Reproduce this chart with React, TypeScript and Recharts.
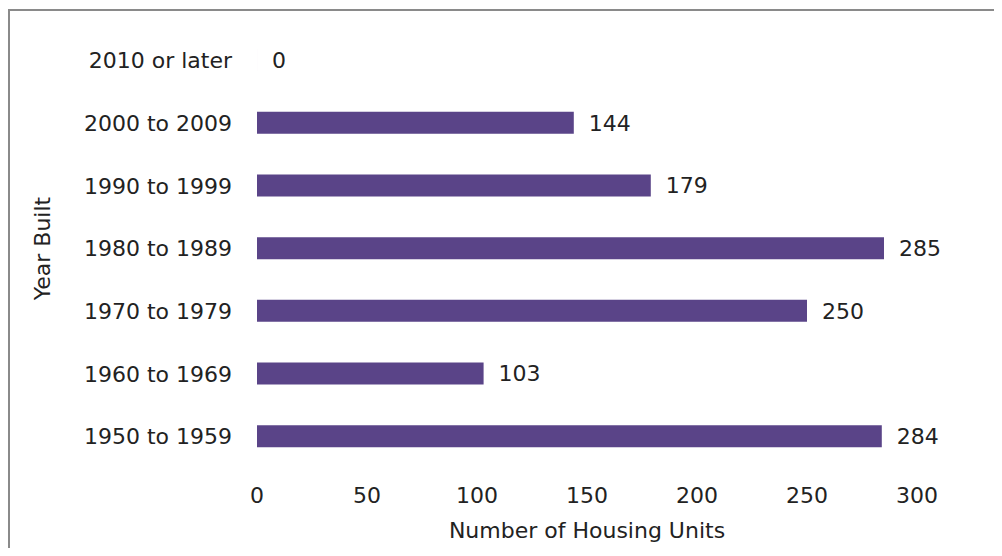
import { BarChart, Bar, XAxis, YAxis, LabelList } from "recharts";

const periods = [
  "2010 or later",
  "2000 to 2009",
  "1990 to 1999",
  "1980 to 1989",
  "1970 to 1979",
  "1960 to 1969",
  "1950 to 1959",
];
const units = [0, 144, 179, 285, 250, 103, 284];
const xTicks = [0, 50, 100, 150, 200, 250, 300];

const data = periods.map((p, i) => ({ period: p, units: units[i] }));

const FONT = "'DejaVu Sans', sans-serif";
const INK = "#222";
const txt = { fontSize: 22, fill: INK, fontFamily: FONT };

export default function App() {
  return (
    <div
      style={{
        position: "relative",
        width: 1002,
        height: 556,
        margin: -8,
        background: "#fff",
        overflow: "hidden",
        fontFamily: FONT,
      }}
    >
      {/* frame of the scanned figure */}
      <div
        style={{
          position: "absolute",
          left: 8,
          top: 9,
          width: 1010,
          height: 560,
          borderLeft: "2px solid #8a8a8a",
          borderTop: "2px solid #8a8a8a",
        }}
      />
      <BarChart
        width={1002}
        height={556}
        data={data}
        layout="vertical"
        margin={{ top: 29, right: 85, left: 37, bottom: 18 }}
        style={{ position: "absolute", left: 0, top: 0 }}
      >
        <XAxis
          type="number"
          domain={[0, 300]}
          ticks={xTicks}
          axisLine={false}
          tickLine={false}
          tickMargin={13}
          height={70}
          tick={txt}
          label={{
            value: "Number of Housing Units",
            position: "insideBottom",
            offset: 0,
            style: txt,
          }}
        />
        <YAxis
          type="category"
          dataKey="period"
          axisLine={false}
          tickLine={false}
          tickMargin={19}
          width={220}
          tick={txt}
          label={{
            value: "Year Built",
            angle: -90,
            position: "insideLeft",
            style: { ...txt, textAnchor: "middle" },
          }}
        />
        <Bar
          dataKey="units"
          fill="#5a4488"
          barSize={22}
          minPointSize={0.01}
          isAnimationActive={false}
        >
          <LabelList dataKey="units" position="right" offset={15} style={txt} />
        </Bar>
      </BarChart>
    </div>
  );
}
